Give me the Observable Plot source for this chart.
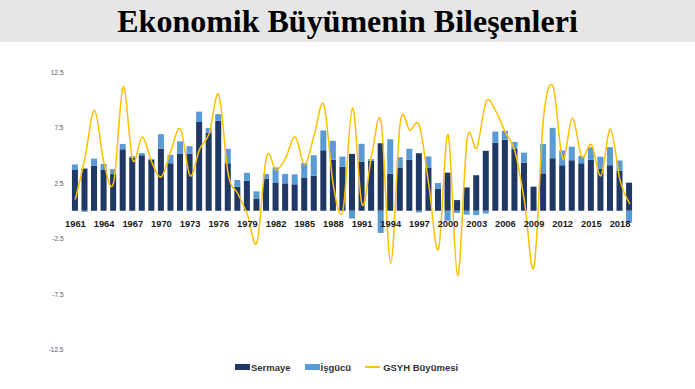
<!DOCTYPE html>
<html>
<head>
<meta charset="utf-8">
<script src="https://cdn.jsdelivr.net/npm/d3@7"></script>
<script src="https://cdn.jsdelivr.net/npm/@observablehq/plot@0.6"></script>
<style>
  html, body { margin: 0; padding: 0; background: #fff; }
  body { width: 695px; height: 389px; overflow: hidden; }
  #title { height: 42px; background: #e7e6e6; text-align: center; font-family: "Liberation Serif", "Times New Roman", serif; font-weight: bold; font-size: 32px; line-height: 42px; color: #000; }
  #legend { display: flex; justify-content: center; align-items: center; font-family: "Liberation Sans", Arial, sans-serif; font-weight: bold; font-size: 9.5px; color: #333; height: 14px; margin-left: -2px; }
  .item { display: flex; align-items: center; margin: 0 7px; }
  .sw { width: 15px; height: 6px; margin-right: 1px; }
  .ln { width: 15px; height: 1.6px; margin-right: 3px; background: #ffc000; }
</style>
</head>
<body>
<div id="title">Ekonomik Büyümenin Bileşenleri</div>
<div id="chart"></div>
<div id="legend">
  <div class="item"><div class="sw" style="background:#203864"></div>Sermaye</div>
  <div class="item"><div class="sw" style="background:#5b9bd5"></div>İşgücü</div>
  <div class="item"><div class="ln"></div>GSYH Büyümesi</div>
</div>
<script>
const years = d3.range(1961, 2020);
const seriesNames = ["Sermaye", "İşgücü"];
const sermaye = [3.67, 3.8, 4.07, 3.67, 3.3, 5.54, 4.8, 5.0, 4.58, 5.6,
  4.28, 5.15, 5.15, 8.0, 7.0, 8.1, 4.28, 2.17, 2.7, 1.1,
  2.9, 2.5, 2.47, 2.38, 2.95, 3.16, 5.45, 4.6, 3.98, 5.12,
  4.43, 4.5, 6.08, 3.34, 3.9, 4.58, 5.18, 3.9, 2.0, 3.43,
  0.96, 2.1, 3.2, 5.4, 6.14, 6.4, 5.57, 4.34, 2.17, 3.37,
  4.73, 4.1, 4.55, 4.28, 4.58, 3.77, 4.1, 3.6, 2.53];
const isgucu = [0.5, -0.1, 0.63, 0.55, 0.45, 0.48, 0.1, 0.2, 0.1, 1.3,
  0.75, 1.1, 0.66, 0.93, 0.45, 0.6, 1.3, 0.6, 0.72, 0.65,
  0.42, 1.4, 0.85, 0.9, 1.35, 1.84, 1.78, 1.7, 0.9, -0.7,
  1.6, 0.15, -2.0, 3.1, 0.93, 1.0, -0.15, 1.0, 0.5, -0.9,
  -0.2, -0.35, -0.4, -0.25, 1.0, 0.8, 0.63, 0.9, 0.0, 2.65,
  2.74, 1.33, 1.23, 0.66, 1.14, 1.1, 1.63, 0.93, -1.08];
const gsyh = [1.1, 4.8, 9.1, 4.3, 2.6, 11.2, 4.6, 6.7, 4.4, 3.1,
  5.5, 7.4, 3.2, 5.6, 7.0, 10.5, 3.3, 1.6, -0.3, -2.8,
  4.9, 3.7, 4.8, 6.7, 4.2, 6.9, 9.6, 2.3, 0.1, 9.3,
  0.6, 5.0, 8.0, -4.7, 8.0, 7.3, 7.7, 2.3, -3.4, 6.9,
  -5.8, 6.5, 5.7, 9.9, 9.0, 7.1, 5.4, 0.9, -5.0, 8.5,
  11.2, 4.7, 8.4, 4.9, 6.0, 3.2, 7.4, 2.8, 0.7];
const xTickYears = [1961, 1964, 1967, 1970, 1973, 1976, 1979, 1982, 1985, 1988, 1991, 1994, 1997, 2000, 2003, 2006, 2009, 2012, 2015, 2018];
const yTicks = [12.5, 7.5, 2.5, -2.5, -7.5, -12.5];

const bars = years.flatMap((yr, i) => [
  {year: yr, seri: seriesNames[0], v: sermaye[i]},
  {year: yr, seri: seriesNames[1], v: isgucu[i]}
]);
const lineData = years.map((yr, i) => ({year: yr, v: gsyh[i]}));

const chart = Plot.plot({
  width: 695,
  height: 318,
  marginLeft: 70,
  marginRight: 61,
  marginTop: 30,
  marginBottom: 10.5,
  style: {fontFamily: "'Liberation Sans', Arial, sans-serif", background: "#fff"},
  x: {type: "band", domain: years, paddingInner: 0.37, paddingOuter: 0.2, axis: null},
  y: {domain: [-12.5, 12.5], axis: null},
  color: {domain: seriesNames, range: ["#203864", "#5b9bd5"]},
  marks: [
    Plot.barY(bars, {x: "year", y: "v", fill: "seri"}),
    Plot.line(lineData, {x: "year", y: "v", stroke: "#ffc000", strokeWidth: 1.5, curve: "cardinal"}),
    Plot.axisY({ticks: yTicks, tickSize: 0, tickPadding: 7, fontSize: 6.5, fill: "#595959", tickFormat: d => String(d), label: null}),
    Plot.text(xTickYears, {x: d => d, y: d => 0, dy: 13, text: d => String(d), fontSize: 9.3, fontWeight: "bold", fill: "#1a1a1a"})
  ]
});
document.getElementById("chart").appendChild(chart);
</script>
</body>
</html>
